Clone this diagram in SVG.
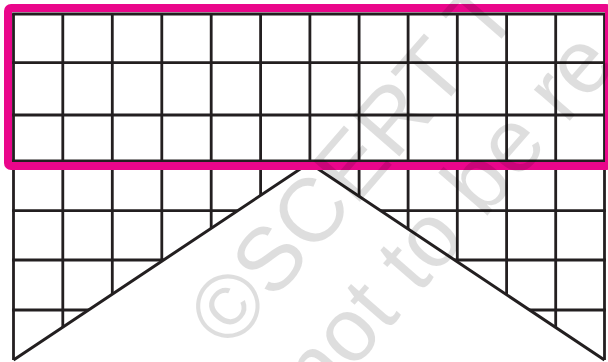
<svg xmlns="http://www.w3.org/2000/svg" width="608" height="362" viewBox="0 0 608 362">
  <style>
    .g { stroke: #231f20; stroke-width: 2.8; fill: none; stroke-linecap: butt; }
    .tri { stroke: #231f20; stroke-width: 3; fill: none; stroke-linejoin: miter; }
    .frame { stroke: #ea068b; stroke-width: 8; fill: none; }
    .wm { font-family: "Liberation Sans", Arial, sans-serif; font-size: 90px; fill: #000; fill-opacity: 0.13; }
  </style>
  <rect x="0" y="0" width="608" height="362" fill="#ffffff"/>
  <g id="grid">
    <g id="vertical-lines" class="g">
      <line x1="13.5" y1="14" x2="13.5" y2="360"/>
      <line x1="62.8" y1="14" x2="62.8" y2="360"/>
      <line x1="112.3" y1="14" x2="112.3" y2="360"/>
      <line x1="161.8" y1="14" x2="161.8" y2="360"/>
      <line x1="211.2" y1="14" x2="211.2" y2="360"/>
      <line x1="260.6" y1="14" x2="260.6" y2="360"/>
      <line x1="309.9" y1="14" x2="309.9" y2="360"/>
      <line x1="359.1" y1="14" x2="359.1" y2="360"/>
      <line x1="408.1" y1="14" x2="408.1" y2="360"/>
      <line x1="457.3" y1="14" x2="457.3" y2="360"/>
      <line x1="506.6" y1="14" x2="506.6" y2="360"/>
      <line x1="555.7" y1="14" x2="555.7" y2="360"/>
      <line x1="604.5" y1="14" x2="604.5" y2="360"/>
    </g>
    <g id="horizontal-lines" class="g">
      <line x1="12.1" y1="14" x2="605.9" y2="14"/>
      <line x1="12.1" y1="62.7" x2="605.9" y2="62.7"/>
      <line x1="12.1" y1="115" x2="605.9" y2="115"/>
      <line x1="12.1" y1="161" x2="605.9" y2="161"/>
      <line x1="12.1" y1="210.7" x2="605.9" y2="210.7"/>
      <line x1="12.1" y1="260" x2="605.9" y2="260"/>
      <line x1="12.1" y1="310" x2="605.9" y2="310"/>
    </g>
  </g>
  <g id="triangle">
    <polygon points="13.5,360 309.2,163 604.5,360 604.5,362 13.5,362" fill="#ffffff" stroke="none"/>
    <polyline class="tri" points="13.5,360 309.2,163 604.5,360"/>
  </g>
  <g id="highlight-frame">
    <rect class="frame" x="8" y="8" width="601" height="158" rx="3" ry="3"/>
  </g>
  <g id="watermark">
    <text class="wm" x="229.5" y="351.6" transform="rotate(-49 229.5 351.6)">©SCERT T</text>
    <text class="wm" x="319.5" y="408.7" transform="rotate(-49 319.5 408.7)">not to be re</text>
  </g>
</svg>
